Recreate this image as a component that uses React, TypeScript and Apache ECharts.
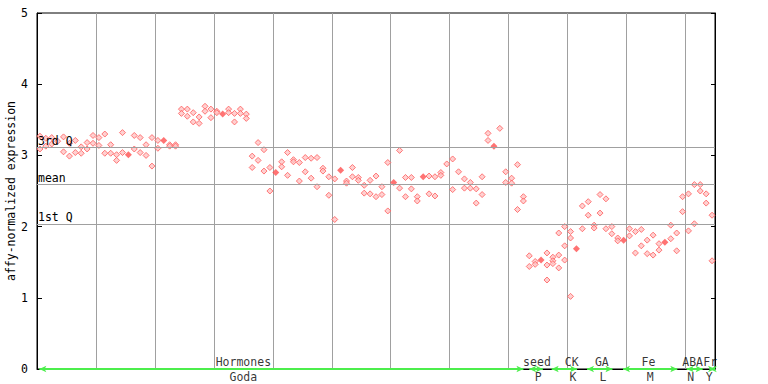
import React, { useEffect, useRef } from "react";
import * as echarts from "echarts";

// replicate values per sample (sample i is drawn at x = i + 0.5)
const sampleValues: number[][] = [
  [3.27, 3.09], [3.24, 3.13], [3.25, 3.16], [3.2], [3.26, 3.05],
  [3.17, 2.99], [3.21, 3.04], [3.12, 3.03], [3.18, 3.09], [3.28, 3.17],
  [3.25, 3.14], [3.3, 3.03], [3.15, 3.03], [3.01, 2.93], [3.32, 3.04],
  [], [3.28, 3.09], [3.25, 3.04], [3.15, 3.0], [3.25, 2.85],
  [3.21, 3.1], [], [3.15, 3.13], [3.15, 3.13], [3.65, 3.59],
  [3.65, 3.55], [3.6, 3.47], [3.54, 3.45], [3.69, 3.62], [3.65, 3.53],
  [3.62, 3.6], [], [3.65, 3.6], [3.59, 3.47], [3.65, 3.59],
  [3.58, 3.52], [2.99, 2.83], [3.18, 2.93], [3.08, 2.78], [2.83, 2.5],
  [], [2.91, 2.84], [3.04, 2.72], [2.94, 2.91], [2.9, 2.64],
  [2.97, 2.77], [2.96, 2.68], [2.97, 2.56], [2.82, 2.78], [2.7, 2.44],
  [2.67, 2.1], [], [2.64, 2.61], [2.83, 2.7], [2.69, 2.65],
  [2.58, 2.47], [2.65, 2.46], [2.71, 2.42], [2.56, 2.45], [2.9, 2.22],
  [], [3.07, 2.54], [2.69, 2.42], [2.69, 2.53], [2.42, 2.36],
  [], [2.71, 2.46], [2.7, 2.43], [2.76, 2.72], [2.88],
  [2.95, 2.52], [2.77], [2.67, 2.54], [2.62, 2.54], [2.53, 2.33],
  [2.7, 2.45], [3.31, 3.21], [], [3.38], [2.77, 2.62],
  [2.68, 2.61], [2.87, 2.24], [2.42, 2.36], [1.59, 1.44], [1.51, 1.47],
  [], [1.63, 1.46, 1.25], [1.57, 1.52, 1.48], [1.91, 1.6, 1.42], [2.0, 1.73, 1.53],
  [1.93, 1.84, 1.02], [], [2.29, 1.97], [2.35, 2.16], [2.02, 1.98],
  [2.45, 2.19], [2.39, 1.97], [2.0, 1.9], [1.84, 1.8], [],
  [1.97, 1.87], [1.93, 1.63], [1.96, 1.73], [1.81, 1.62], [1.88, 1.6],
  [1.76, 1.67], [], [2.02, 1.83], [1.91, 1.66], [2.42, 2.21],
  [2.46, 1.94], [2.59, 2.04], [2.59, 2.5], [2.46, 2.33], [2.16, 1.52],
];

// samples whose replicates overlap (drawn as filled diamonds): [sample, value]
const overlapSamples: [number, number][] = [
  [15, 3.01], [21, 3.21], [31, 3.58], [40, 2.76], [51, 2.79], [60, 2.62],
  [65, 2.7], [77, 3.13], [85, 1.53], [91, 1.69], [99, 1.81], [106, 1.78],
];

const quartile3 = 3.11;
const meanValue = 2.59;
const quartile1 = 2.04;

// experiment groups: [first sample edge, last sample edge]
const groupNames = ["Hormones", "seed", "CK", "GA", "Fe", "ABA", "Fr"];
const groupCodes = ["Goda", "P", "K", "L", "M", "N", "Y"];
const groupStarts = [0.4, 83.5, 87.3, 93.3, 99.4, 110.2, 114.1];
const groupEnds = [82.5, 85.8, 91.6, 97.6, 108.6, 112.9, 115];
const groupLabelAt = [35.0, 84.8, 90.7, 95.8, 103.7, 111.2, 114.2];
const codeLabelAt = [35.0, 85.0, 90.9, 96.0, 104.0, 110.9, 114.0];

const sampleCount = 115;
const yTicks = [0, 5];

const FONT = "DejaVu Sans Mono";

export default function App() {
  const ref = useRef<HTMLDivElement>(null);

  useEffect(() => {
    if (!ref.current) return;
    const chart = echarts.init(ref.current, null, { renderer: "svg" });

    const points: [number, number][] = [];
    sampleValues.forEach((vals, i) => vals.forEach((v) => points.push([i + 0.5, v])));
    const overlapPts = overlapSamples.map(([i, v]) => [i + 0.5, v]);

    const grey = "#a0a0a0";
    const green = "#4cee4c";

    const option: any = {
      animation: false,
      backgroundColor: "#ffffff",
      textStyle: { fontFamily: FONT },
      grid: {
        left: 37,
        right: 53,
        top: 13,
        bottom: 15,
        containLabel: false,
        outerBoundsMode: "none",
        show: true,
        borderColor: "#000",
        borderWidth: 1,
        backgroundColor: "transparent",
      },
      xAxis: {
        type: "value",
        min: 0,
        max: sampleCount,
        interval: 10,
        axisLine: { show: true, lineStyle: { color: "#000", width: 1 } },
        axisTick: { show: false },
        axisLabel: { show: false },
        splitLine: { show: true, lineStyle: { color: grey, width: 1 } },
      },
      yAxis: [
        {
          type: "value",
          min: yTicks[0],
          max: yTicks[1],
          interval: 1,
          position: "left",
          name: "affy-normalized expression",
          nameLocation: "middle",
          nameGap: 20,
          nameMoveOverlap: false,
          nameRotate: 90,
          nameTextStyle: { fontFamily: FONT, fontSize: 11.5, color: "#000" },
          axisLine: { show: true, lineStyle: { color: "#000", width: 1 } },
          axisTick: { show: true, inside: true, length: 5, lineStyle: { color: "#000" } },
          axisLabel: { show: true, margin: 9, fontFamily: FONT, fontSize: 11.5, color: "#000" },
          splitLine: { show: false },
        },
        {
          type: "value",
          min: yTicks[0],
          max: yTicks[1],
          interval: 1,
          position: "right",
          axisLine: { show: true, lineStyle: { color: "#000", width: 1 } },
          axisTick: { show: true, inside: true, length: 4, lineStyle: { color: "#000" } },
          axisLabel: { show: false },
          splitLine: { show: false },
        },
      ],
      series: [
        {
          type: "scatter",
          name: "samples",
          data: points,
          symbol: "diamond",
          symbolSize: 6,
          itemStyle: { color: "#ffc4c4", borderColor: "#ff5a5a", borderWidth: 1 },
          markLine: {
            silent: true,
            symbol: "none",
            lineStyle: { color: grey, width: 1, type: "solid" },
            label: {
              show: true,
              position: "insideStartTop",
              distance: [1, 1],
              fontFamily: FONT,
              fontSize: 11.5,
              color: "#000",
            },
            data: [
              { yAxis: quartile3, label: { formatter: "3rd Q" } },
              { yAxis: meanValue, label: { formatter: "mean" } },
              { yAxis: quartile1, label: { formatter: "1st Q" } },
            ],
          },
        },
        {
          type: "scatter",
          name: "overlap",
          data: overlapPts,
          symbol: "diamond",
          symbolSize: 7,
          itemStyle: { color: "#ff5050" },
        },
        {
          type: "scatter",
          name: "groups",
          data: groupLabelAt.map((x) => [x, 0]),
          symbolSize: 0,
          clip: false,
          label: {
            show: true,
            position: "top",
            distance: 1,
            fontFamily: FONT,
            fontSize: 11.5,
            color: "#000",
            formatter: (p: any) => groupNames[p.dataIndex],
          },
          markLine: {
            silent: true,
            symbol: ["arrow", "arrow"],
            symbolSize: [5, 7],
            lineStyle: { color: green, width: 2, type: "solid" },
            label: { show: false },
            data: groupStarts.map((s, i) => [
              { coord: [s, 0] },
              { coord: [groupEnds[i], 0] },
            ]),
          },
        },
        {
          type: "scatter",
          name: "codes",
          data: codeLabelAt.map((x) => [x, 0]),
          symbolSize: 0,
          clip: false,
          label: {
            show: true,
            position: "bottom",
            distance: 2,
            fontFamily: FONT,
            fontSize: 11.5,
            color: "#000",
            formatter: (p: any) => groupCodes[p.dataIndex],
          },
        },
      ],
    };

    chart.setOption(option);
    return () => chart.dispose();
  }, []);

  return (
    <div
      ref={ref}
      style={{ position: "fixed", left: 0, top: 0, width: 768, height: 384, background: "#fff" }}
    />
  );
}
